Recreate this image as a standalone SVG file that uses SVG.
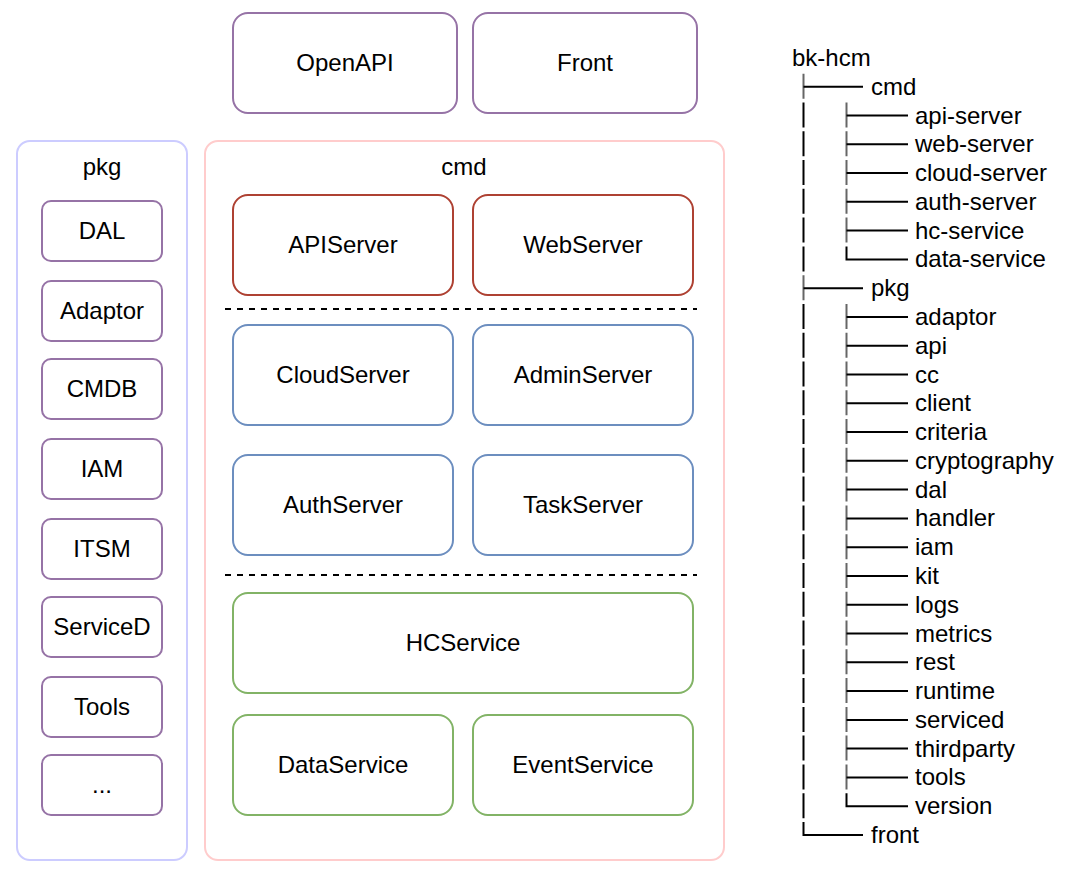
<svg xmlns="http://www.w3.org/2000/svg" width="1088" height="872" viewBox="0 0 1088 872">
<style>
text{font-family:"Liberation Sans",Arial,Helvetica,sans-serif;font-size:24px;fill:#000}
.c{text-anchor:middle}
.box{fill:#fff;stroke-width:2}
.purple{stroke:#9673a6}
.red{stroke:#ae4132}
.blue{stroke:#6c8ebf}
.green{stroke:#82b366}
.sep{stroke:#000;stroke-width:2;stroke-dasharray:6 6;fill:none}
.tl{stroke:#000;stroke-width:2;fill:none}
.tg{stroke:#666;stroke-width:2;fill:none}
</style>
<rect width="1088" height="872" fill="#fff"/>

<g id="openapi"><rect class="box purple" x="233" y="13" width="224" height="100" rx="15"/><text class="c" x="345" y="71">OpenAPI</text></g>
<g id="front"><rect class="box purple" x="473" y="13" width="224" height="100" rx="15"/><text class="c" x="585" y="71">Front</text></g>

<g id="pkg">
<rect x="17" y="141" width="170" height="719" rx="13" fill="#fff" stroke="#ccccff" stroke-width="2"/>
<text class="c" x="102" y="175">pkg</text>
</g>
<g id="pkg-dal"><rect class="box purple" x="42" y="201" width="120" height="60" rx="9"/><text class="c" x="102" y="239">DAL</text></g>
<g id="pkg-adaptor"><rect class="box purple" x="42" y="281" width="120" height="60" rx="9"/><text class="c" x="102" y="319">Adaptor</text></g>
<g id="pkg-cmdb"><rect class="box purple" x="42" y="359" width="120" height="60" rx="9"/><text class="c" x="102" y="397">CMDB</text></g>
<g id="pkg-iam"><rect class="box purple" x="42" y="439" width="120" height="60" rx="9"/><text class="c" x="102" y="477">IAM</text></g>
<g id="pkg-itsm"><rect class="box purple" x="42" y="519" width="120" height="60" rx="9"/><text class="c" x="102" y="557">ITSM</text></g>
<g id="pkg-serviced"><rect class="box purple" x="42" y="597" width="120" height="60" rx="9"/><text class="c" x="102" y="635">ServiceD</text></g>
<g id="pkg-tools"><rect class="box purple" x="42" y="677" width="120" height="60" rx="9"/><text class="c" x="102" y="715">Tools</text></g>
<g id="pkg-more"><rect class="box purple" x="42" y="755" width="120" height="60" rx="9"/><text class="c" x="102" y="793">...</text></g>

<g id="cmd">
<rect x="205" y="141" width="519" height="719" rx="13" fill="#fff" stroke="#ffcccc" stroke-width="2"/>
<text class="c" x="464" y="175">cmd</text>
</g>
<g id="apiserver"><rect class="box red" x="233" y="195" width="220" height="100" rx="15"/><text class="c" x="343" y="253">APIServer</text></g>
<g id="webserver"><rect class="box red" x="473" y="195" width="220" height="100" rx="15"/><text class="c" x="583" y="253">WebServer</text></g>
<g id="cloudserver"><rect class="box blue" x="233" y="325" width="220" height="100" rx="15"/><text class="c" x="343" y="383">CloudServer</text></g>
<g id="adminserver"><rect class="box blue" x="473" y="325" width="220" height="100" rx="15"/><text class="c" x="583" y="383">AdminServer</text></g>
<g id="authserver"><rect class="box blue" x="233" y="455" width="220" height="100" rx="15"/><text class="c" x="343" y="513">AuthServer</text></g>
<g id="taskserver"><rect class="box blue" x="473" y="455" width="220" height="100" rx="15"/><text class="c" x="583" y="513">TaskServer</text></g>
<g id="hcservice"><rect class="box green" x="233" y="593" width="460" height="100" rx="15"/><text class="c" x="463" y="651">HCService</text></g>
<g id="dataservice"><rect class="box green" x="233" y="715" width="220" height="100" rx="15"/><text class="c" x="343" y="773">DataService</text></g>
<g id="eventservice"><rect class="box green" x="473" y="715" width="220" height="100" rx="15"/><text class="c" x="583" y="773">EventService</text></g>

<g id="separators">
<line class="sep" x1="225" y1="309" x2="697" y2="309"/>
<line class="sep" x1="225" y1="575" x2="697" y2="575"/>
</g>

<g id="connectors">
<!-- outer level: gray tee verticals -->
<path class="tg" d="M803.5 73.7V98.7 M803.5 275.2V300.2"/>
<!-- outer level: black bars -->
<path class="tl" d="M803.5 102.5V127.5 M803.5 131.3V156.3 M803.5 160V185 M803.5 188.8V213.8 M803.5 217.6V242.6 M803.5 246.4V271.4 M803.5 303.9V328.9 M803.5 332.7V357.7 M803.5 361.5V386.5 M803.5 390.3V415.3 M803.5 419.1V444.1 M803.5 447.8V472.8 M803.5 476.6V501.6 M803.5 505.4V530.4 M803.5 534.2V559.2 M803.5 563V588 M803.5 591.7V616.7 M803.5 620.5V645.5 M803.5 649.3V674.3 M803.5 678.1V703.1 M803.5 706.9V731.9 M803.5 735.6V760.6 M803.5 764.4V789.4 M803.5 793.2V818.2 M803.5 822V835H863 M803.5 86.7H863 M803.5 288.2H863"/>
<!-- inner level: gray tee verticals -->
<path class="tg" d="M846.5 102.5V127.5 M846.5 131.3V156.3 M846.5 160V185 M846.5 188.8V213.8 M846.5 217.6V242.6 M846.5 303.9V328.9 M846.5 332.7V357.7 M846.5 361.5V386.5 M846.5 390.3V415.3 M846.5 419.1V444.1 M846.5 447.8V472.8 M846.5 476.6V501.6 M846.5 505.4V530.4 M846.5 534.2V559.2 M846.5 563V588 M846.5 591.7V616.7 M846.5 620.5V645.5 M846.5 649.3V674.3 M846.5 678.1V703.1 M846.5 706.9V731.9 M846.5 735.6V760.6 M846.5 764.4V789.4"/>
<!-- inner level: horizontals and corners -->
<path class="tl" d="M846.5 115.5H908 M846.5 144.3H908 M846.5 173H908 M846.5 201.8H908 M846.5 230.6H908 M846.5 246.4V259.4H908 M846.5 316.9H908 M846.5 345.7H908 M846.5 374.5H908 M846.5 403.3H908 M846.5 432.1H908 M846.5 460.8H908 M846.5 489.6H908 M846.5 518.4H908 M846.5 547.2H908 M846.5 576H908 M846.5 604.7H908 M846.5 633.5H908 M846.5 662.3H908 M846.5 691.1H908 M846.5 719.9H908 M846.5 748.6H908 M846.5 777.4H908 M846.5 793.2V806.2H908"/>
</g>

<g id="tree">
<text x="792" y="66">bk-hcm</text>
<text x="871" y="95">cmd</text>
<text x="915" y="124">api-server</text>
<text x="915" y="152">web-server</text>
<text x="915" y="181">cloud-server</text>
<text x="915" y="210">auth-server</text>
<text x="915" y="239">hc-service</text>
<text x="915" y="267">data-service</text>
<text x="871" y="296">pkg</text>
<text x="915" y="325">adaptor</text>
<text x="915" y="354">api</text>
<text x="915" y="383">cc</text>
<text x="915" y="411">client</text>
<text x="915" y="440">criteria</text>
<text x="915" y="469">cryptography</text>
<text x="915" y="498">dal</text>
<text x="915" y="526">handler</text>
<text x="915" y="555">iam</text>
<text x="915" y="584">kit</text>
<text x="915" y="613">logs</text>
<text x="915" y="642">metrics</text>
<text x="915" y="670">rest</text>
<text x="915" y="699">runtime</text>
<text x="915" y="728">serviced</text>
<text x="915" y="757">thirdparty</text>
<text x="915" y="785">tools</text>
<text x="915" y="814">version</text>
<text x="871" y="843">front</text>
</g>
</svg>
